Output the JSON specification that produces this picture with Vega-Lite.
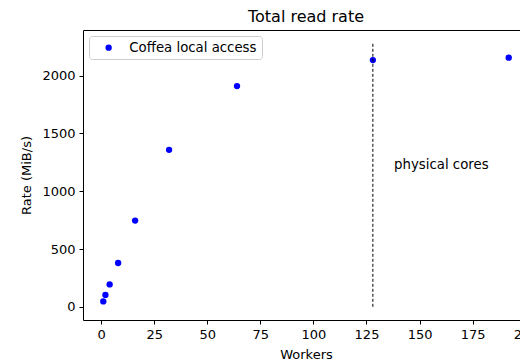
{
  "$schema": "https://vega.github.io/schema/vega-lite/v6.json",
  "autosize": {"type": "none"},
  "padding": {"left": 83, "top": 30, "right": 0, "bottom": 42},
  "width": 446,
  "height": 290,
  "background": "white",
  "title": {"text": "Total read rate", "font": "DejaVu Sans", "fontSize": 16, "fontWeight": "normal", "color": "#000", "offset": 5},
  "config": {
    "view": {"stroke": "#000", "strokeWidth": 1},
    "font": "DejaVu Sans",
    "axis": {"grid": false, "domain": false, "tickColor": "#000", "tickSize": 4, "labelFont": "DejaVu Sans", "labelFontSize": 13, "labelColor": "#000", "titleFont": "DejaVu Sans", "titleFontSize": 13, "titleFontWeight": "normal", "titleColor": "#000", "labelPadding": 4}
  },
  "layer": [
    {
      "data": {"values": [
        {"workers": 1, "rate": 47, "series": "Coffea local access"},
        {"workers": 2, "rate": 103, "series": "Coffea local access"},
        {"workers": 4, "rate": 194, "series": "Coffea local access"},
        {"workers": 8, "rate": 379, "series": "Coffea local access"},
        {"workers": 16, "rate": 746, "series": "Coffea local access"},
        {"workers": 32, "rate": 1358, "series": "Coffea local access"},
        {"workers": 64, "rate": 1909, "series": "Coffea local access"},
        {"workers": 128, "rate": 2134, "series": "Coffea local access"},
        {"workers": 192, "rate": 2155, "series": "Coffea local access"}
      ]},
      "mark": {"type": "point", "filled": true, "size": 40, "opacity": 1, "shape": "circle"},
      "encoding": {
        "x": {"field": "workers", "type": "quantitative", "scale": {"domain": [-8.55, 201.55], "nice": false, "zero": false}, "axis": {"values": [0, 25, 50, 75, 100, 125, 150, 175, 200], "format": "d", "title": "Workers", "titlePadding": 7}},
        "y": {"field": "rate", "type": "quantitative", "scale": {"domain": [-114, 2394], "nice": false, "zero": false}, "axis": {"values": [0, 500, 1000, 1500, 2000], "format": "d", "title": "Rate (MiB/s)", "titlePadding": 8}},
        "color": {"field": "series", "type": "nominal", "scale": {"range": ["#0000ff"]}, "legend": {"title": null, "orient": "top-left", "offset": 6, "fillColor": "white", "strokeColor": "#cccccc", "cornerRadius": 3, "padding": 5, "labelFont": "DejaVu Sans", "labelFontSize": 13.3, "labelColor": "#000", "symbolSize": 40, "symbolType": "circle", "symbolOffset": 8, "labelOffset": 14}}
      }
    },
    {
      "data": {"values": [{"x": 128, "y0": 0, "y1": 2280}]},
      "mark": {"type": "rule", "color": "#000", "strokeWidth": 1, "strokeDash": [3, 2]},
      "encoding": {
        "x": {"field": "x", "type": "quantitative"},
        "y": {"field": "y0", "type": "quantitative"},
        "y2": {"field": "y1"}
      }
    },
    {
      "data": {"values": [{"x": 138, "y": 1230, "label": "physical cores"}]},
      "mark": {"type": "text", "align": "left", "baseline": "middle", "font": "DejaVu Sans", "fontSize": 13.3, "color": "#000"},
      "encoding": {
        "x": {"field": "x", "type": "quantitative"},
        "y": {"field": "y", "type": "quantitative"},
        "text": {"field": "label"}
      }
    }
  ]
}
